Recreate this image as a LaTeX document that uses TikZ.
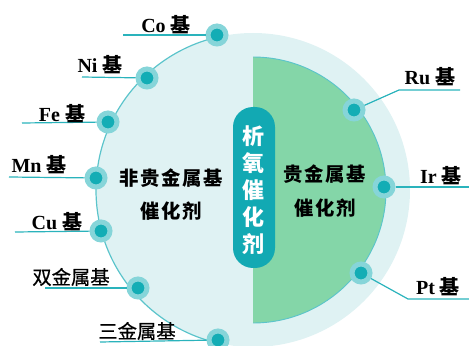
\documentclass[tikz,border=0pt]{standalone}
\usepackage{fontspec}
\setmainfont{Liberation Serif}
\newfontfamily\cjk{Noto Sans CJK SC}
\newfontfamily\cjkm[FakeBold=0.6]{Noto Sans CJK SC}
\definecolor{lightbg}{HTML}{DFF2F3}
\definecolor{greenfill}{HTML}{84D6A8}
\definecolor{arcline}{HTML}{5BC4CB}
\definecolor{dotc}{HTML}{13ADB5}
\definecolor{haloc}{HTML}{86D5D9}
\definecolor{pillc}{HTML}{12A9B3}
\definecolor{leadc}{HTML}{2AB3BC}
\newcommand\lsp{\kern1.2pt}
\begin{document}
\begin{tikzpicture}[x=0.75pt,y=-0.75pt,
  dot/.style={circle,inner sep=0pt,minimum size=13.5pt,line width=3.75pt,fill=dotc,draw=haloc},
  lead/.style={draw=leadc,line width=0.9pt},
  lab/.style={inner sep=0pt,font=\fontsize{15pt}{18pt}\selectfont\bfseries},
  clab/.style={inner sep=0pt,font=\fontsize{14.5pt}{18pt}\selectfont\cjkm},
  mid/.style={inner sep=0pt,align=center,font=\fontsize{14.5pt}{25pt}\selectfont\cjk\bfseries},
  pill/.style={fill=pillc,rounded corners=15pt,minimum width=31.5pt,minimum height=120.75pt,inner sep=0pt},
  pilltext/.style={inner sep=0pt,align=center,text=white,font=\fontsize{16.5pt}{20.25pt}\selectfont\cjk\bfseries}]
\useasboundingbox (0,0) rectangle (469,346);
% big light circle
\fill[lightbg] (253,190) circle[radius=117.75pt];
\begin{scope}
  \clip (0,0) rectangle (218,346);
  \draw[arcline,line width=0.9pt] (253,190) circle[radius=117.75pt];
\end{scope}
% green half disc
\begin{scope}
  \clip (253,0) rectangle (469,346);
  \fill[greenfill] (253,190) circle[radius=99.75pt];
  \draw[arcline,line width=0.7pt] (253,190) circle[radius=99.75pt];
\end{scope}
% centre pill
\node[pill] (pill) at (254,187.5) {};
\node[pilltext] (oer) at (254,190) {析\\氧\\催\\化\\剂};
% centre texts
\node[mid] (nonnoble) at (171,194.5) {非\lsp 贵\lsp 金\lsp 属\lsp 基\\催\lsp 化\lsp 剂};
\node[mid] (noble) at (325,191) {贵\lsp 金\lsp 属\lsp 基\\催\lsp 化\lsp 剂};
% dots
\node[dot] (co) at (217,35) {};
\node[dot] (ni) at (147,78) {};
\node[dot] (fe) at (108,122) {};
\node[dot] (mn) at (96,178) {};
\node[dot] (cu) at (101,231) {};
\node[dot] (bi) at (138,288) {};
\node[dot] (tri) at (218,340) {};
\node[dot] (ru) at (354,110) {};
\node[dot] (ir) at (384,187) {};
\node[dot] (pt) at (361,273) {};
% leader ends
\coordinate (coE) at (123,35);
\coordinate (niE) at (82,77);
\coordinate (feE) at (22,123);
\coordinate (mnE) at (9,177);
\coordinate (cuE) at (15,232);
\coordinate (biE) at (45,288);
\coordinate (triE) at (100,342);
\coordinate (ruK) at (399,90);
\coordinate (ruE) at (460,90);
\coordinate (irE) at (469,187);
\coordinate (ptK) at (408,299);
\coordinate (ptE) at (469,299);
\draw[lead] (co) -- (coE);
\draw[lead] (ni) -- (niE);
\draw[lead] (fe) -- (feE);
\draw[lead] (mn) -- (mnE);
\draw[lead] (cu) -- (cuE);
\draw[lead] (bi) -- (biE);
\draw[lead] (tri) -- (triE);
\draw[lead] (ru) -- (ruK) -- (ruE);
\draw[lead] (ir) -- (irE);
\draw[lead] (pt) -- (ptK) -- (ptE);
% labels
\node[lab] (coL) at (166,25) {Co {\cjk 基}};
\node[lab] (niL) at (100,65) {Ni {\cjk 基}};
\node[lab] (feL) at (62,114) {Fe {\cjk 基}};
\node[lab] (mnL) at (39,165) {Mn {\cjk 基}};
\node[lab] (cuL) at (57,222) {Cu {\cjk 基}};
\node[clab] (biL) at (71,277) {双金属基};
\node[clab] (triL) at (137,331) {三金属基};
\node[lab] (ruL) at (430,77) {Ru {\cjk 基}};
\node[lab] (irL) at (441,176) {Ir {\cjk 基}};
\node[lab] (ptL) at (438,287) {Pt {\cjk 基}};
\end{tikzpicture}
\end{document}
